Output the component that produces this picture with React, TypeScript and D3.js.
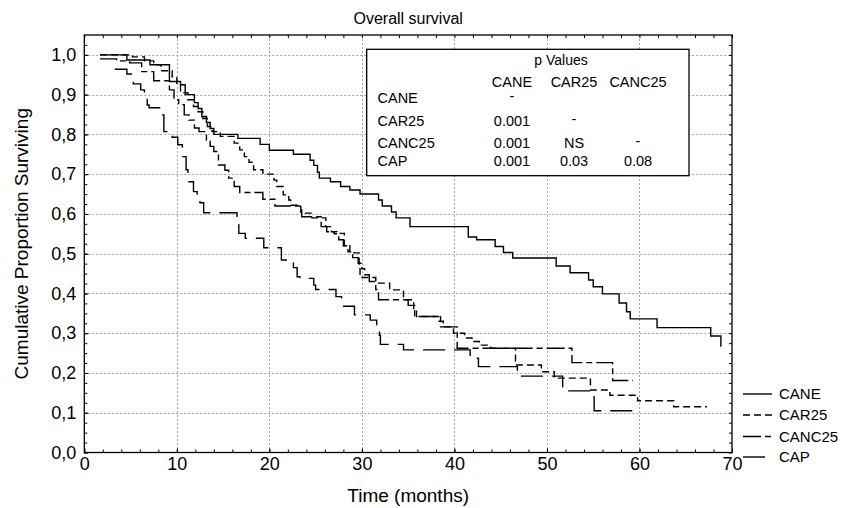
import React, { useEffect, useRef } from 'react';
import * as d3 from 'd3';

// Kaplan-Meier steps: [months, proportion surviving]
const cane: [number, number][] = [
  [1.7, 1.0], [4.6, 0.987], [7.1, 0.975], [9.2, 0.933], [10.4, 0.925], [10.9, 0.9],
  [11.9, 0.88], [12.3, 0.865], [12.7, 0.845], [13.2, 0.83], [13.6, 0.815], [14.0, 0.8],
  [16.6, 0.79], [19.0, 0.775], [20.0, 0.76], [22.6, 0.75], [24.4, 0.735], [24.8, 0.722],
  [25.2, 0.705], [25.4, 0.69], [26.6, 0.681], [27.7, 0.669], [28.7, 0.66], [29.8, 0.65],
  [31.8, 0.635], [32.2, 0.62], [33.2, 0.605], [33.7, 0.59], [35.2, 0.568], [41.5, 0.542],
  [42.4, 0.535], [44.4, 0.518], [45.3, 0.503], [46.3, 0.489], [51.0, 0.469], [52.5, 0.452],
  [54.5, 0.434], [55.0, 0.417], [56.0, 0.399], [57.8, 0.376], [58.6, 0.354], [59.0, 0.336],
  [61.9, 0.314], [67.7, 0.293], [68.8, 0.266],
];

const car25: [number, number][] = [
  [1.7, 1.0], [5.2, 0.995], [6.5, 0.985], [7.5, 0.975], [8.3, 0.96], [9.5, 0.945],
  [10.0, 0.925], [10.4, 0.905], [11.2, 0.887], [11.8, 0.87], [12.3, 0.857], [12.8, 0.84],
  [13.3, 0.82], [13.8, 0.807], [14.7, 0.795], [16.2, 0.778], [16.8, 0.761], [17.3, 0.744],
  [17.8, 0.73], [18.3, 0.711], [19.3, 0.7], [20.5, 0.685], [20.8, 0.669], [21.5, 0.648],
  [22.1, 0.635], [22.3, 0.622], [23.4, 0.602], [24.6, 0.59], [26.1, 0.568], [26.7, 0.555],
  [27.3, 0.551], [28.1, 0.52], [28.7, 0.502], [29.7, 0.47], [29.8, 0.44], [31.5, 0.426],
  [33.0, 0.409], [34.5, 0.384], [35.6, 0.36], [35.9, 0.342], [38.3, 0.33], [38.8, 0.316],
  [39.9, 0.3], [41.1, 0.288], [41.9, 0.279], [42.7, 0.27], [43.9, 0.262], [46.6, 0.22],
  [49.4, 0.203], [50.8, 0.187], [54.7, 0.157], [56.8, 0.144], [59.8, 0.13], [63.7, 0.115],
  [67.3, 0.115],
];

const canc25: [number, number][] = [
  [1.7, 0.99], [3.5, 0.985], [4.9, 0.98], [6.2, 0.958], [7.5, 0.935], [9.2, 0.912],
  [9.7, 0.887], [10.2, 0.875], [10.8, 0.849], [11.3, 0.836], [11.9, 0.816], [12.4, 0.807],
  [13.2, 0.786], [13.6, 0.77], [14.0, 0.757], [14.5, 0.723], [15.2, 0.71], [15.6, 0.69],
  [16.2, 0.669], [16.8, 0.654], [19.3, 0.637], [20.6, 0.62], [23.5, 0.593], [25.6, 0.568],
  [26.2, 0.555], [27.0, 0.55], [27.5, 0.535], [28.0, 0.52], [28.5, 0.505], [29.0, 0.49],
  [29.6, 0.476], [30.0, 0.462], [30.3, 0.447], [30.8, 0.43], [31.5, 0.41], [31.8, 0.384],
  [35.0, 0.37], [35.7, 0.342], [38.5, 0.316], [40.3, 0.262], [52.7, 0.226], [57.1, 0.181],
  [59.3, 0.181],
];

const cap: [number, number][] = [
  [3.3, 0.964], [4.6, 0.952], [5.3, 0.927], [6.1, 0.912], [6.5, 0.895], [6.8, 0.874],
  [7.0, 0.867], [8.4, 0.849], [8.6, 0.807], [9.5, 0.793], [10.1, 0.774], [10.6, 0.744],
  [11.0, 0.711], [11.2, 0.681], [11.8, 0.656], [12.2, 0.644], [12.5, 0.628], [12.9, 0.603],
  [16.5, 0.572], [16.7, 0.551], [17.4, 0.539], [19.4, 0.515], [21.3, 0.484], [22.6, 0.465],
  [23.0, 0.442], [23.3, 0.438], [24.8, 0.421], [25.0, 0.41], [27.2, 0.392], [27.8, 0.368],
  [29.2, 0.346], [30.9, 0.333], [31.6, 0.316], [31.9, 0.295], [32.0, 0.272], [34.5, 0.258],
  [41.7, 0.237], [42.6, 0.216], [46.8, 0.192], [51.7, 0.155], [55.1, 0.105], [59.4, 0.105],
];

const groups = ['CANE', 'CAR25', 'CANC25', 'CAP'];
const series = [cane, car25, canc25, cap];
const dashStyles = [null, '7,4', '18,4,6,4', '22,9'];

const xTicks = [0, 10, 20, 30, 40, 50, 60, 70];
const yTicks = [0, 0.1, 0.2, 0.3, 0.4, 0.5, 0.6, 0.7, 0.8, 0.9, 1.0];

const pCols = ['CANE', 'CAR25', 'CANC25'];
const pRows = ['CANE', 'CAR25', 'CANC25', 'CAP'];
const pValues = [
  ['-', '', ''],
  ['0.001', '-', ''],
  ['0.001', 'NS', '-'],
  ['0.001', '0.03', '0.08'],
];

const FONT = '"Liberation Sans", Arial, Helvetica, sans-serif';

function SurvivalChart() {
  const svgRef = useRef<SVGSVGElement>(null);

  useEffect(() => {
    if (!svgRef.current) return;
    const width = 841;
    const height = 508;
    const left = 84.3, right = 732, top = 35, bottom = 452.5;

    const svg = d3.select(svgRef.current);
    svg.selectAll('*').remove();
    svg.attr('width', width).attr('height', height).attr('font-family', FONT);

    svg.append('rect').attr('width', width).attr('height', height).attr('fill', 'white');

    const x = d3.scaleLinear().domain([0, 70]).range([left, right]);
    const y = d3.scaleLinear().domain([0, 1.05]).range([bottom, top]);

    // grid
    const grid = svg.append('g').attr('stroke', '#a0a0a0').attr('stroke-width', 1)
      .attr('stroke-dasharray', '2,2');
    grid.selectAll('line.v').data(xTicks.slice(1, -1)).join('line')
      .attr('x1', d => Math.round(x(d)) + 0.5).attr('x2', d => Math.round(x(d)) + 0.5)
      .attr('y1', top).attr('y2', bottom);
    grid.selectAll('line.h').data(yTicks.slice(1)).join('line')
      .attr('y1', d => Math.round(y(d)) + 0.5).attr('y2', d => Math.round(y(d)) + 0.5)
      .attr('x1', left).attr('x2', right);

    // inward ticks on all four sides
    const xMinor = d3.range(0, 70.001, 2);
    const yMinor = d3.range(0, 1.05, 0.025);
    const tickAxis = (axis: any, tr: string) => {
      const a = svg.append('g').attr('transform', tr).call(axis);
      a.select('.domain').remove();
      a.selectAll('line').attr('stroke', '#000');
      return a;
    };
    tickAxis(d3.axisBottom(x).tickValues(xMinor).tickSize(-3).tickFormat(() => ''), `translate(0,${bottom})`);
    tickAxis(d3.axisTop(x).tickValues(xMinor).tickSize(-3).tickFormat(() => ''), `translate(0,${top})`);
    tickAxis(d3.axisLeft(y).tickValues(yMinor).tickSize(-3).tickFormat(() => ''), `translate(${left},0)`);
    tickAxis(d3.axisRight(y).tickValues(yMinor).tickSize(-3).tickFormat(() => ''), `translate(${right},0)`);

    const xa = tickAxis(d3.axisBottom(x).tickValues(xTicks).tickSize(-4).tickPadding(5)
      .tickFormat(d => String(d)), `translate(0,${bottom})`);
    xa.selectAll('text').attr('font-size', 18).attr('fill', '#000').attr('font-family', FONT);
    const ya = tickAxis(d3.axisLeft(y).tickValues(yTicks).tickSize(-4).tickPadding(8)
      .tickFormat(d => d3.format('.1f')(d as number).replace('.', ',')), `translate(${left},0)`);
    ya.selectAll('text').attr('font-size', 18).attr('fill', '#000').attr('font-family', FONT);

    // frame
    svg.append('rect').attr('x', left).attr('y', top)
      .attr('width', right - left).attr('height', bottom - top)
      .attr('fill', 'none').attr('stroke', '#000').attr('stroke-width', 1.3);

    // curves
    const line = d3.line<[number, number]>()
      .x(d => x(d[0])).y(d => y(d[1])).curve(d3.curveStepAfter);
    series.forEach((s, i) => {
      svg.append('path').attr('d', line(s) as string)
        .attr('fill', 'none').attr('stroke', '#000').attr('stroke-width', 1.4)
        .attr('stroke-dasharray', dashStyles[i]);
    });

    // p value table
    const tb = svg.append('g');
    tb.append('rect').attr('x', 366.7).attr('y', 49.3).attr('width', 322.3).attr('height', 126.4)
      .attr('fill', 'white').attr('stroke', '#000').attr('stroke-width', 1.3);
    tb.append('text').attr('x', 561).attr('y', 65).attr('text-anchor', 'middle')
      .attr('font-size', 14).text('p Values');
    const colX = [512, 574, 638];
    const rowY = [103, 125.5, 147.5, 166];
    tb.selectAll('text.ch').data(pCols).join('text')
      .attr('x', (_, i) => colX[i]).attr('y', 86.5).attr('text-anchor', 'middle')
      .attr('font-size', 14.5).text(d => d);
    tb.selectAll('text.rh').data(pRows).join('text')
      .attr('x', 377.5).attr('y', (_, i) => rowY[i])
      .attr('font-size', 14.5).text(d => d);
    pValues.forEach((row, r) => {
      row.forEach((v, c) => {
        if (!v) return;
        tb.append('text').attr('x', colX[c]).attr('y', rowY[r] - (v === '-' ? 2 : 0))
          .attr('text-anchor', 'middle').attr('font-size', 14.5).text(v);
      });
    });

    // legend
    const legY = [394, 415, 436.5, 457];
    groups.forEach((name, i) => {
      svg.append('line').attr('x1', 743).attr('x2', 772).attr('y1', legY[i]).attr('y2', legY[i])
        .attr('stroke', '#000').attr('stroke-width', 1.4).attr('stroke-dasharray', dashStyles[i]);
      svg.append('text').attr('x', 779).attr('y', legY[i]).attr('dy', '0.35em')
        .attr('font-size', 15).text(name);
    });

    // titles
    svg.append('text').attr('x', (left + right) / 2).attr('y', 24).attr('text-anchor', 'middle')
      .attr('font-size', 16).text('Overall survival');
    svg.append('text').attr('x', (left + right) / 2).attr('y', 502).attr('text-anchor', 'middle')
      .attr('font-size', 19).text('Time (months)');
    svg.append('text').attr('transform', `translate(28,${(top + bottom) / 2}) rotate(-90)`)
      .attr('text-anchor', 'middle').attr('font-size', 19).text('Cumulative Proportion Surviving');
  }, []);

  return <svg ref={svgRef} style={{ position: 'absolute', left: 0, top: 0 }}></svg>;
}

export default function App() {
  return <SurvivalChart />;
}
